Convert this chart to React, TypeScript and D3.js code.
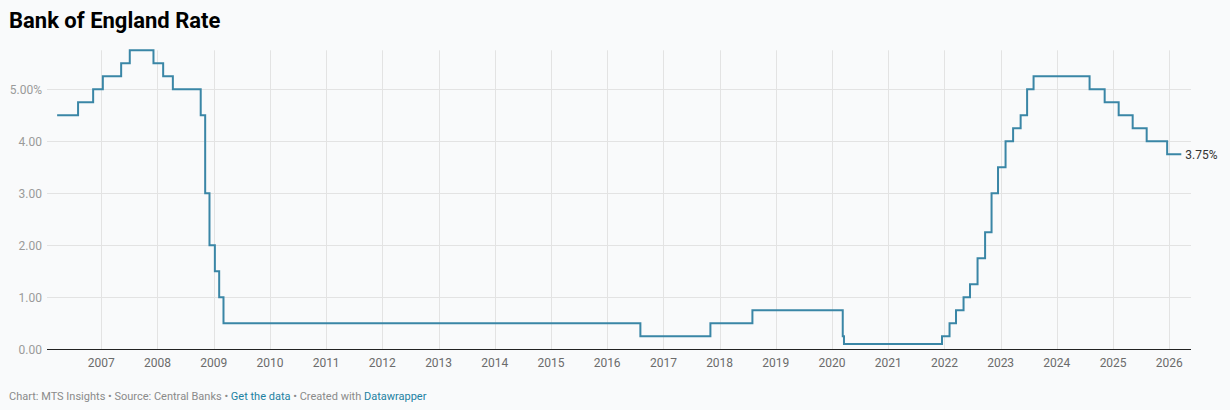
import React from "react";
import * as d3 from "d3";

const rateDates: string[] = [
  "2006-03-20", "2006-08-03", "2006-11-09", "2007-01-11", "2007-05-10", "2007-07-05",
  "2007-12-06", "2008-02-07", "2008-04-10", "2008-10-08", "2008-11-06", "2008-12-04",
  "2009-01-08", "2009-02-05", "2009-03-05", "2016-08-04", "2017-11-02", "2018-08-02",
  "2020-03-11", "2020-03-19", "2021-12-16", "2022-02-03", "2022-03-17", "2022-05-05",
  "2022-06-16", "2022-08-04", "2022-09-22", "2022-11-03", "2022-12-15", "2023-02-02",
  "2023-03-23", "2023-05-11", "2023-06-22", "2023-08-03", "2024-08-01", "2024-11-07",
  "2025-02-06", "2025-05-08", "2025-08-07", "2025-12-18", "2026-03-20",
];
const rateValues: number[] = [
  4.5, 4.75, 5.0, 5.25, 5.5, 5.75,
  5.5, 5.25, 5.0, 4.5, 3.0, 2.0,
  1.5, 1.0, 0.5, 0.25, 0.5, 0.75,
  0.25, 0.1, 0.25, 0.5, 0.75, 1.0,
  1.25, 1.75, 2.25, 3.0, 3.5, 4.0,
  4.25, 4.5, 5.0, 5.25, 5.0, 4.75,
  4.5, 4.25, 4.0, 3.75, 3.75,
];
const yTicks: number[] = [0, 1, 2, 3, 4, 5];
const xTickYears: number[] = [
  2007, 2008, 2009, 2010, 2011, 2012, 2013, 2014, 2015, 2016,
  2017, 2018, 2019, 2020, 2021, 2022, 2023, 2024, 2025, 2026,
];

const W = 1230;
const H = 410;
const FONT = "Roboto, 'Noto Sans', sans-serif";

export default function App() {
  const parse = d3.timeParse("%Y-%m-%d");
  const data = rateDates.map((d, i) => ({ date: parse(d) as Date, value: rateValues[i] }));

  const x = d3
    .scaleTime()
    .domain([new Date(2007, 0, 1), new Date(2026, 0, 1)])
    .range([101.3, 1169.3]);
  const y = d3.scaleLinear().domain([0, 5.75]).range([349.3, 50.3]);

  const plotLeft = 47;
  const plotRight = 1191;

  const line = d3
    .line<{ date: Date; value: number }>()
    .x((d) => x(d.date))
    .y((d) => y(d.value))
    .curve(d3.curveStepAfter);

  const last = data[data.length - 1];

  return (
    <svg
      width={W}
      height={H}
      style={{ position: "absolute", left: 0, top: 0, background: "#f9fafb" }}
      fontFamily={FONT}
    >
      <rect x={0} y={0} width={W} height={H} fill="#f9fafb" />
      <text x={9} y={28} fontSize={22} fontWeight={700} fill="#000">
        Bank of England Rate
      </text>

      {xTickYears.map((yr) => {
        const xx = Math.round(x(new Date(yr, 0, 1))) + 0.5;
        return (
          <line key={"vg" + yr} x1={xx} x2={xx} y1={y(5.75)} y2={y(0)} stroke="#e3e3e3" strokeWidth={1} />
        );
      })}
      {yTicks.map((t) => {
        const yy = Math.round(y(t)) + 0.5;
        return t === 0 ? null : (
          <line key={"hg" + t} x1={plotLeft} x2={plotRight} y1={yy} y2={yy} stroke="#e3e3e3" strokeWidth={1} />
        );
      })}

      {yTicks.map((t) => (
        <text
          key={"yl" + t}
          x={42}
          y={y(t)}
          dy="0.35em"
          textAnchor="end"
          fontSize={12}
          fill="#9a9a9a"
        >
          {t === 5 ? t.toFixed(2) + "%" : t.toFixed(2)}
        </text>
      ))}

      {xTickYears.map((yr) => (
        <text
          key={"xl" + yr}
          x={x(new Date(yr, 0, 1))}
          y={363}
          dy="0.35em"
          textAnchor="middle"
          fontSize={12}
          fill="#6b6b6b"
        >
          {yr}
        </text>
      ))}

      <path d={line(data) || ""} fill="none" stroke="#3a86a6" strokeWidth={2} strokeLinejoin="miter" />

      <line x1={plotLeft} x2={plotRight} y1={Math.round(y(0)) + 0.5} y2={Math.round(y(0)) + 0.5} stroke="#222" strokeWidth={1} />

      <text x={x(last.date) + 4} y={y(last.value)} dy="0.35em" fontSize={12} fill="#333">
        {last.value.toFixed(2) + "%"}
      </text>

      <text x={9} y={400} fontSize={11} fill="#8a8a8a">
        Chart: MTS Insights • Source: Central Banks •{" "}
        <tspan fill="#1d81a2">Get the data</tspan>
        <tspan> • Created with </tspan>
        <tspan fill="#1d81a2">Datawrapper</tspan>
      </text>
    </svg>
  );
}
